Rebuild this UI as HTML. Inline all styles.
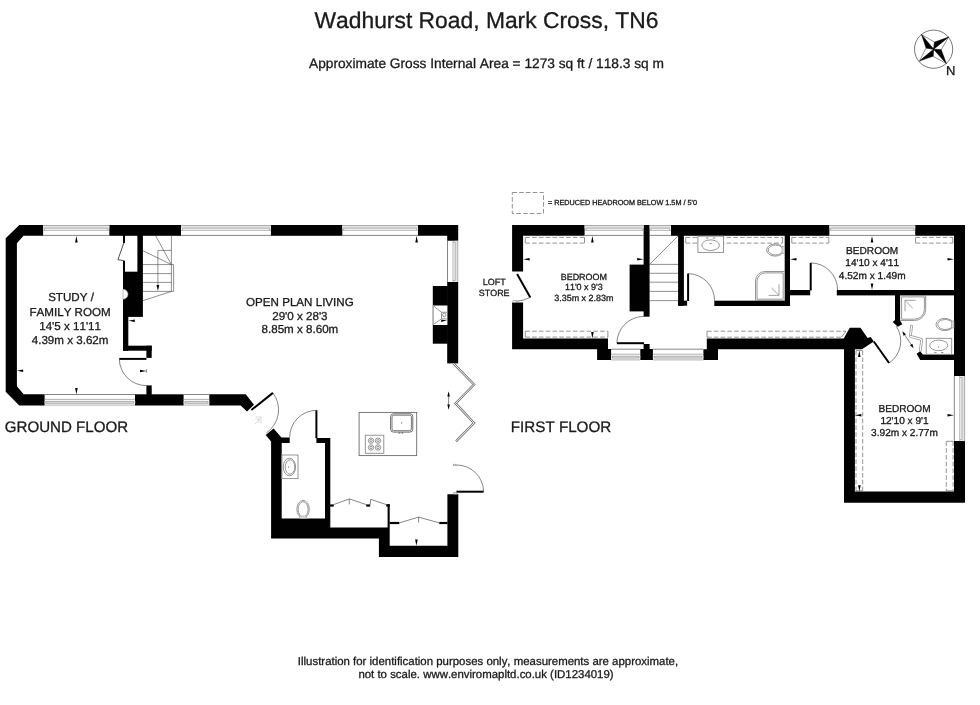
<!DOCTYPE html>
<html>
<head>
<meta charset="utf-8">
<title>Floor plan</title>
<style>
html,body{margin:0;padding:0;background:#fff;}
body{width:980px;height:705px;overflow:hidden;font-family:"Liberation Sans",sans-serif;}
svg{display:block;will-change:transform;opacity:0.999;}
text{font-family:"Liberation Sans",sans-serif;fill:#1a1a1a;font-kerning:none;stroke:#1a1a1a;stroke-width:0.3;text-rendering:geometricPrecision;}
.w{fill:#000;stroke:none;}
.l{fill:none;stroke:#222;stroke-width:0.8;}
.g{fill:none;stroke:#8a8a8a;stroke-width:0.9;}
.gf{fill:#fff;stroke:#8a8a8a;stroke-width:0.9;}
.d{fill:none;stroke:#000;stroke-width:2;}
.a{fill:none;stroke:#3a3a3a;stroke-width:0.62;}
.st{fill:none;stroke:#444;stroke-width:0.6;}
.dash{fill:none;stroke:#787878;stroke-width:0.8;stroke-dasharray:4.6 2.2;}
.dsol{fill:none;stroke:#787878;stroke-width:0.8;}
.arr{fill:#000;stroke:none;}
.wf{fill:#e2e2e2;stroke:none;}
.wl{fill:none;stroke:#909090;stroke-width:0.7;}
.wi{fill:none;stroke:#666;stroke-width:0.8;}
</style>
</head>
<body>
<svg width="980" height="705" viewBox="0 0 980 705">
<rect x="0" y="0" width="980" height="705" fill="#fff"/>

<!-- ===== HEADINGS ===== -->
<g id="headings">
<text x="486.5" y="28" font-size="22.85" text-anchor="middle">Wadhurst Road, Mark Cross, TN6</text>
<text x="486.5" y="68" font-size="13.72" text-anchor="middle">Approximate Gross Internal Area = 1273 sq ft / 118.3 sq m</text>
<text x="488" y="665" font-size="11.43" text-anchor="middle">Illustration for identification purposes only, measurements are approximate,</text>
<text x="486" y="678" font-size="11.43" text-anchor="middle">not to scale. www.enviromapltd.co.uk (ID1234019)</text>
<text x="4.8" y="432" font-size="15.1">GROUND FLOOR</text>
<text x="510.8" y="432" font-size="15.2">FIRST FLOOR</text>
</g>

<!-- ===== COMPASS ===== -->
<g id="compass">
<circle cx="933.6" cy="49.2" r="19.1" fill="none" stroke="#555" stroke-width="0.8"/>
<g fill="#fff" stroke="#444" stroke-width="0.6" stroke-linejoin="miter">
<polygon points="933.6,49.2 921.4,34.4 934.5,42.1"/>
<polygon points="933.6,49.2 948.7,36.9 941.3,49.7"/>
<polygon points="933.6,49.2 946.4,63.6 933.1,56.3"/>
<polygon points="933.6,49.2 919.5,61.1 926,48"/>
</g>
<g fill="#000" stroke="#000" stroke-width="0.4">
<polygon points="933.6,49.2 921.4,34.4 926,48"/>
<polygon points="933.6,49.2 948.7,36.9 934.5,42.1"/>
<polygon points="933.6,49.2 946.4,63.6 941.3,49.7"/>
<polygon points="933.6,49.2 919.5,61.1 933.1,56.3"/>
</g>
<text x="946" y="75" font-size="13">N</text>
</g>


<!-- ===== GROUND FLOOR ===== -->
<g id="ground">
<!-- walls -->
<polygon class="w" points="43.1,225 19.3,225 5.7,238.2 5.7,391.7 19.3,405.4 44.6,405.4 44.6,394.3 23.6,394.3 16.9,386.2 16.9,243.2 23.5,235.8 43.1,235.8"/>
<rect class="w" x="109.3" y="225" width="71.7" height="10.8"/>
<rect class="w" x="137.4" y="235" width="5.5" height="37"/>
<rect class="w" x="123" y="271.7" width="19.9" height="45.2"/>
<rect class="w" x="123" y="235" width="2" height="8"/>
<rect class="w" x="123" y="260.7" width="2" height="11.5"/>
<rect class="w" x="123" y="316" width="5.3" height="34.7"/>
<rect class="w" x="123" y="345.7" width="28.7" height="5"/>
<rect class="w" x="146.4" y="345.7" width="5.3" height="12.2"/>
<rect class="w" x="146.4" y="385.4" width="5.3" height="9.5"/>
<rect class="w" x="135" y="394.3" width="48.6" height="11.2"/>
<polygon class="w" points="209.3,394.3 245.7,394.3 254,404.8 247,411.4 240.7,405.5 209.3,405.5"/>
<rect class="w" x="270.9" y="225" width="71.4" height="10.8"/>
<polygon class="w" points="418,225 458.2,225 458.2,240.8 447.2,240.8 447.2,235.8 418,235.8"/>
<rect class="w" x="447.2" y="282" width="11" height="81.4"/>
<rect class="w" x="432.8" y="286" width="15" height="57.7"/>
<polygon class="w" points="265.7,435 273.6,428.6 281.4,437.4 289.7,437.4 289.7,442.9 281.7,442.9 281.7,518.6 325,518.6 325,442.9 316.4,442.9 316.4,437.9 330.3,437.9 330.3,527.6 387.6,527.6 387.6,504.3 389.7,504.3 389.7,545.7 447.4,545.7 447.4,494.3 458.3,494.3 458.3,556.9 378.9,556.9 378.9,538.6 271.1,538.6 271.1,441.5"/>
<!-- notch & fireplace -->
<path d="M123,289.3 A5,5 0 0 1 123,299.3 Z" fill="#fff" stroke="#999" stroke-width="0.6"/>
<rect x="432.8" y="305.5" width="14.6" height="19.5" fill="#fff"/>
<path class="g" d="M433.2,305.6 V324.6 M433.2,305.6 L441.5,312.3 V318.9 L433.2,324.6 M441.5,312.3 H447.2 M441.5,318.9 H447.2"/>
<circle class="g" cx="444.3" cy="315" r="1.7"/>
<polygon class="arr" points="441.2,319.8 441.2,322.1 447,320.2"/>
<!-- windows -->
<g class="win">
<rect class="wf" x="43.1" y="225.5" width="66.2" height="2.7"/><path class="wl" d="M43.1,225.5 H109.3 M44.5,228.2 H107.89999999999999 M43.1,230.29999999999998 H109.3 M44.5,228.2 V230.29999999999998 M107.89999999999999,228.2 V230.29999999999998"/><path class="wi" d="M43.1,235.4 H109.3"/>
<rect class="wf" x="181" y="225.5" width="89.9" height="2.7"/><path class="wl" d="M181,225.5 H270.9 M182.4,228.2 H269.5 M181,230.29999999999998 H270.9 M182.4,228.2 V230.29999999999998 M269.5,228.2 V230.29999999999998"/><path class="wi" d="M181,235.4 H270.9"/>
<rect class="wf" x="342.3" y="225.5" width="75.7" height="2.7"/><path class="wl" d="M342.3,225.5 H418 M343.7,228.2 H416.6 M342.3,230.29999999999998 H418 M343.7,228.2 V230.29999999999998 M416.6,228.2 V230.29999999999998"/><path class="wi" d="M342.3,235.4 H418"/>
<rect class="wf" x="44.6" y="401.4" width="90.7" height="1.9"/><path class="wl" d="M44.6,405.09999999999997 H135 M45.699999999999996,403.3 H133.6 M45.699999999999996,401.4 H133.6 M44.6,399.4 H135 M45.699999999999996,401.4 V403.3 M133.6,401.4 V403.3"/><path class="wi" d="M44.6,394.5 H135"/>
<rect class="wf" x="183.6" y="401.4" width="25.7" height="1.9"/><path class="wl" d="M183.6,405.09999999999997 H209.3 M185.0,403.3 H207.9 M185.0,401.4 H207.9 M183.6,399.4 H209.3 M185.0,401.4 V403.3 M207.9,401.4 V403.3"/><path class="wi" d="M183.6,394.5 H209.3"/>
<rect class="wf" x="455.09999999999997" y="240.8" width="2.7" height="41.2"/><path class="wl" d="M457.8,240.8 V282 M455.09999999999997,242.20000000000002 V280.6 M453.0,240.8 V282 M455.09999999999997,242.20000000000002 H453.0 M455.09999999999997,280.6 H453.0"/><path class="wi" d="M447.5,240.8 V282"/>
</g>
<!-- cupboard door (study) -->
<path class="l" d="M123.8,243 L117.9,259.7 L123.8,260.7"/>
<!-- stairs -->
<path class="st" d="M142.9,264.6 H171.4 M142.9,273.6 H171.4 M142.9,282.4 H171.4 M142.9,291.4 H173.6 V264.6 H171.4 M171.4,235.8 V291.4 M171.4,264.6 L142.9,250.7 M171.4,264.6 L155.7,235.8 M171.4,291.4 L142.9,300.7 M171.4,250.4 H157.9 V286"/>
<polygon class="arr" points="156.5,285 159.3,285 157.9,291"/>
<!-- study door -->
<path class="d" d="M119.3,358.9 H146.4"/>
<path class="a" d="M119.3,359 A27,27 0 0 0 146.4,385.6"/>
<!-- entrance door -->
<path class="d" d="M251.4,410 L272.9,392.9"/>
<path class="a" d="M272.9,392.9 A28,28 0 0 1 266.4,432.9"/>
<path d="M255.5,417 h5.5 v6.5 M261,417 l-6,7 M255.5,419.2 h3.5 v4" fill="none" stroke="#d4d4d4" stroke-width="0.8"/>
<!-- wc door -->
<path class="d" d="M316.4,410.3 V438.2"/>
<path class="a" d="M316.4,410.3 A27,27 0 0 0 289.7,437.4"/>
<!-- wc fixtures -->
<rect class="gf" x="281.9" y="455" width="16.1" height="23.6"/>
<ellipse class="g" cx="289.4" cy="467" rx="6.2" ry="8.8"/>
<ellipse class="g" cx="290" cy="467" rx="4.8" ry="7.2"/>
<circle cx="288.6" cy="467" r="0.7" fill="#888"/>
<ellipse class="g" cx="303.1" cy="509.2" rx="6.2" ry="8.8"/>
<ellipse class="g" cx="303.1" cy="509.4" rx="5" ry="7.6"/>
<rect x="299.6" y="516" width="7" height="2.6" fill="#ddd" stroke="#999" stroke-width="0.6"/>
<!-- cupboard doors -->
<rect class="w" x="330" y="504.4" width="3.8" height="2.2"/>
<rect class="w" x="366.2" y="504.4" width="4" height="2.2"/>
<rect class="w" x="386.2" y="504.2" width="3.5" height="2.4"/>
<path class="a" d="M333.6,504.6 L349.3,498.9 V504.3 M349.3,498.9 L366.4,504.6 M370.2,504.6 L370.7,499.3 L386.4,504.6"/>
<rect class="w" x="389.7" y="521.9" width="9.6" height="2.2"/>
<rect class="w" x="439.3" y="521.9" width="8.2" height="2.2"/>
<path class="a" d="M399.3,522.9 L418.6,517.1 V522.5 M418.6,517.1 L439.3,522.9"/>
<!-- island -->
<rect class="g" x="359.1" y="412.4" width="57.6" height="43.2" style="stroke:#6a6a6a"/>
<rect class="g" x="390.6" y="413.8" width="22.2" height="18.3" rx="2.8" style="stroke:#5a5a5a"/>
<rect class="g" x="392" y="415.2" width="19.4" height="15.5" rx="1.8" style="stroke:#6a6a6a"/>
<circle cx="401.6" cy="423" r="0.8" fill="#888"/>
<path d="M398.6,433 h1.6 M401.6,433 h1.6" stroke="#555" stroke-width="1.2"/>
<rect class="g" x="365.3" y="435.2" width="18.5" height="18.1"/>
<g class="g"><circle cx="371" cy="440.7" r="2.7"/><circle cx="378" cy="440.7" r="2.7"/><circle cx="371" cy="447.5" r="2.7"/><circle cx="378" cy="447.5" r="2.7"/><circle cx="371" cy="440.7" r="1.2"/><circle cx="378" cy="440.7" r="1.2"/><circle cx="371" cy="447.5" r="1.2"/><circle cx="378" cy="447.5" r="1.2"/></g>
<!-- bifold -->
<path d="M453.6,363.6 L474,384.5 L455.6,403.4 L473.9,423 L456,441.4" fill="none" stroke="#777" stroke-width="2.4" stroke-linejoin="miter"/>
<path d="M453.6,363.6 L474,384.5 L455.6,403.4 L473.9,423 L456,441.4" fill="none" stroke="#fff" stroke-width="0.9" stroke-linejoin="miter"/>
<path class="a" d="M448.6,393 V408.5"/>
<polygon class="arr" points="447.3,396.6 449.9,396.6 448.6,391.4"/>
<polygon class="arr" points="447.3,404.6 449.9,404.6 448.6,409.8"/>
<!-- side door -->
<path class="d" d="M456.4,491.7 H483.6"/>
<path class="a" d="M483.6,491.7 A27,27 0 0 0 455.5,465"/>
<rect x="453.3" y="464.2" width="2.6" height="1.6" fill="#fff" stroke="#888" stroke-width="0.5"/>
<rect x="453.8" y="492.4" width="3" height="1.8" fill="#ddd" stroke="#888" stroke-width="0.5"/>
<!-- dimension arrows -->
<polygon class="arr" points="75.1,242.5 77.7,242.5 76.4,236"/>
<polygon class="arr" points="75.1,388 77.7,388 76.4,394.3"/>
<polygon class="arr" points="23.2,369.5 23.2,371.9 17,370.7"/>
<polygon class="arr" points="134.8,319.5 134.8,321.9 128.4,320.7"/>
<polygon class="arr" points="140,369.8 140,372.2 146.4,371"/><path class="a" d="M146.4,369.3 V372.7"/>
<polygon class="arr" points="415.3,242.5 417.9,242.5 416.6,236"/>
<polygon class="arr" points="415.1,539.4 417.7,539.4 416.4,545.7"/>
<!-- labels -->
<g font-size="11.6" text-anchor="middle">
<text x="71" y="301">STUDY /</text>
<text x="70.1" y="316">FAMILY ROOM</text>
<text x="70.1" y="330">14'5 x 11'11</text>
<text x="70.1" y="344">4.39m x 3.62m</text>
<text x="299.9" y="306">OPEN PLAN LIVING</text>
<text x="299.9" y="320">29'0 x 28'3</text>
<text x="299.9" y="333">8.85m x 8.60m</text>
</g>
</g>


<!-- ===== FIRST FLOOR ===== -->
<g id="first">
<!-- legend -->
<rect class="dash" x="512.3" y="192.5" width="31.2" height="21"/>
<text x="548" y="205" font-size="7.27">= REDUCED HEADROOM BELOW 1.5M / 5'0</text>
<!-- dashed headroom boxes (under walls) -->
<path class="dash" d="M525.3,237.4 H584.5 M525.3,243.1 H584.5"/><path class="dsol" d="M525.3,237.4 V243.1 M584.5,237.4 V243.1"/>
<path class="dash" d="M525.3,331.2 H607.9 M525.3,337.1 H607.9"/><path class="dsol" d="M525.3,331.2 V337.1 M607.9,331.2 V337.1"/>
<path class="dash" d="M685.7,237.4 H782.6 M685.7,243.1 H782.6"/><path class="dsol" d="M685.7,237.4 V243.1 M782.6,237.4 V243.1"/>
<path class="dash" d="M791.8,237.4 H828.8 M791.8,243.1 H828.8"/><path class="dsol" d="M791.8,237.4 V243.1 M828.8,237.4 V243.1"/>
<path class="dash" d="M915.6,237.4 H952.8 M915.6,243.1 H952.8"/><path class="dsol" d="M915.6,237.4 V243.1 M952.8,237.4 V243.1"/>
<path class="dash" d="M707,331.2 H846 M707,337.2 H841.4"/><path class="dsol" d="M707,331.2 V337.2 M846,331.2 L841.4,337.2"/>
<path class="dash" d="M856,350.6 V490.8 M862.7,350.6 V490.8"/><path class="dsol" d="M856,350.6 H862.7 M856,490.8 H862.7"/>
<path class="dash" d="M946.3,441.3 V490.8 M953.1,441.3 V490.8"/><path class="dsol" d="M946.3,441.3 H953.1 M946.3,490.8 H953.1"/>
<!-- walls -->
<polygon class="w" points="512.1,225 584.6,225 584.6,235.8 523.1,235.8 523.1,271.4 512.1,271.4"/>
<polygon class="w" points="512.1,302.4 523.1,302.4 523.1,338.4 608,338.4 608,349 611.1,349 611.1,360 597.1,360 597.1,349.2 512.1,349.2"/>
<rect class="w" x="643.6" y="225" width="6" height="91.7"/>
<rect class="w" x="629.6" y="264.6" width="15" height="46.8"/>
<rect class="w" x="671" y="225" width="158.4" height="10.8"/>
<rect class="w" x="678.1" y="235" width="5.8" height="70.7"/>
<rect class="w" x="678.1" y="300.7" width="9" height="5"/>
<rect class="w" x="714.3" y="300.7" width="75.7" height="5.3"/>
<rect class="w" x="784.7" y="235" width="5.3" height="71"/>
<rect class="w" x="789" y="290" width="21.2" height="5.3"/>
<polygon class="w" points="915.2,225 965,225 965,376 954,376 954,235.8 915.2,235.8"/>
<rect class="w" x="836.8" y="290" width="118" height="5.4"/>
<rect class="w" x="895" y="295" width="5.1" height="26.5"/>
<polygon class="w" points="892.7,322.1 897.8,326.7 902.3,324.2 899.8,320.1 895,320.1"/>
<polygon class="w" points="916.6,353.8 920.2,351.2 922.8,354.5 955,354.5 955,360 920.2,360"/>
<polygon class="w" points="954,441.1 965,441.1 965,502.7 844,502.7 844,349 854.9,349 854.9,491.6 954,491.6"/>
<polygon class="w" points="706.8,338.5 843.7,338.5 849.8,327.7 860.5,327.7 867.6,337.9 870.7,337 873.8,341.5 862,349.2 718,349.2 718,360 703.4,360 703.4,349.2 706.8,349.2"/>
<rect class="w" x="640.3" y="349" width="12.6" height="11"/>
<rect class="w" x="643.6" y="344" width="6" height="6"/>
<!-- windows -->
<g class="win">
<rect class="wf" x="584.6" y="225.5" width="59.0" height="2.7"/><path class="wl" d="M584.6,225.5 H643.6 M586.0,228.2 H642.2 M584.6,230.29999999999998 H643.6 M586.0,228.2 V230.29999999999998 M642.2,228.2 V230.29999999999998"/><path class="wi" d="M584.6,235.4 H643.6"/>
<rect class="wf" x="649.6" y="225.5" width="21.4" height="2.7"/><path class="wl" d="M649.6,225.5 H671 M651.0,228.2 H669.6 M649.6,230.29999999999998 H671 M651.0,228.2 V230.29999999999998 M669.6,228.2 V230.29999999999998"/><path class="wi" d="M649.6,235.4 H671"/>
<rect class="wf" x="829.4" y="225.5" width="85.8" height="2.7"/><path class="wl" d="M829.4,225.5 H915.2 M830.8,228.2 H913.8000000000001 M829.4,230.29999999999998 H915.2 M830.8,228.2 V230.29999999999998 M913.8000000000001,228.2 V230.29999999999998"/><path class="wi" d="M829.4,235.4 H915.2"/>
<rect class="wf" x="611.1" y="356.2" width="29.2" height="1.9"/><path class="wl" d="M611.1,359.9 H640.3 M612.5,358.1 H638.9 M612.5,356.2 H638.9 M611.1,354.2 H640.3 M612.5,356.2 V358.1 M638.9,356.2 V358.1"/><path class="wi" d="M611.1,349.2 H640.3"/>
<rect class="wf" x="652.9" y="356.2" width="50.5" height="1.9"/><path class="wl" d="M652.9,359.9 H703.4 M654.3,358.1 H702.0 M654.3,356.2 H702.0 M652.9,354.2 H703.4 M654.3,356.2 V358.1 M702.0,356.2 V358.1"/><path class="wi" d="M652.9,349.2 H703.4"/>
<rect class="wf" x="961.9" y="376" width="2.7" height="65.1"/><path class="wl" d="M964.6,376 V441.1 M961.9,377.4 V439.70000000000005 M959.8,376 V441.1 M961.9,377.4 H959.8 M961.9,439.70000000000005 H959.8"/><path class="wi" d="M954.3,376 V441.1"/>
</g>
<!-- stairs -->
<path class="st" d="M649.6,264.4 H678.1 M649.6,273.3 H678.1 M649.6,282.2 H678.1 M649.6,291.4 H678.1 M649.6,300.6 H678.1 M678.1,235.8 L649.6,264.4"/>
<!-- loft door -->
<path class="d" d="M517.1,273.9 L530.3,297.4"/>
<path class="a" d="M530.3,297.4 Q524,301 515,301.4"/>
<rect x="513" y="300.6" width="3" height="1.6" fill="#fff" stroke="#888" stroke-width="0.5"/>
<!-- bed1 door -->
<path class="d" d="M616.9,343.2 H644"/>
<path class="a" d="M616.9,343 A27,27 0 0 1 643.8,316.4"/>
<!-- bath door -->
<path class="d" d="M688.1,273.6 V301"/>
<path class="a" d="M688.1,273.6 A26.7,26.7 0 0 1 714.5,300.7"/>
<!-- bed2 door -->
<path class="d" d="M810.7,262.9 V290.4"/>
<path class="a" d="M810.7,262.9 A27,27 0 0 1 837.6,290"/>
<!-- bed3 door -->
<path class="d" d="M873.8,341.5 L889.1,363"/>
<path class="a" d="M889.1,363 A26.5,26.5 0 0 0 896.2,326.2"/>
<!-- bath fixtures -->
<rect class="gf" x="697.9" y="236.2" width="25.7" height="16.2" fill="none"/>
<ellipse class="g" cx="710.6" cy="245.2" rx="8.8" ry="5.3"/>
<path d="M706,238 h2.4 M712.8,238 h2.4 M709.6,243.6 h2" stroke="#888" stroke-width="1"/>
<ellipse class="g" cx="775.2" cy="250" rx="8.6" ry="6.1"/>
<ellipse class="g" cx="775.6" cy="250" rx="7.4" ry="5"/>
<rect x="782" y="246.6" width="2.7" height="7" fill="#ddd" stroke="#999" stroke-width="0.6"/>
<path class="g" d="M784.5,271.5 H765 A9.5,9.5 0 0 0 755.5,281 V300.5 H784.5"/>
<path class="g" d="M783.2,272.9 H765.4 A8.4,8.4 0 0 0 757,281.3 V299.2 H783.2 Z"/>
<path class="g" d="M771.4,287.9 L779,295.4 M768.6,295.4 H779 V284.3" style="stroke:#999"/>
<!-- ensuite fixtures -->
<path class="g" d="M900.3,295.6 H925.7 V309.5 A11,11 0 0 1 914.7,320.5 H900.3"/>
<path class="g" d="M901.6,296.9 H924.4 V309.4 A9.8,9.8 0 0 1 914.6,319.2 H901.6 Z"/>
<path class="g" d="M912.7,308.3 L905,300.3 M915.7,300.3 H905 V311.3" style="stroke:#999"/>
<ellipse class="g" cx="944.8" cy="324.5" rx="8.8" ry="6.1"/>
<ellipse class="g" cx="945.2" cy="324.5" rx="7.5" ry="5"/>
<rect x="951.3" y="321" width="2.7" height="7" fill="#ddd" stroke="#999" stroke-width="0.6"/>
<rect class="g" x="926.2" y="338.3" width="25.5" height="16"/>
<ellipse class="g" cx="938.7" cy="345.4" rx="9" ry="5.3"/>
<circle cx="938.7" cy="347" r="0.7" fill="#888"/>
<path d="M934.2,352.6 h2.4 M941,352.6 h2.4" stroke="#888" stroke-width="1"/>
<!-- ensuite bifold door -->
<g fill="none" stroke-linecap="round">
<path d="M911.5,326 L910.6,334.6 M910.4,336.3 L921.4,339.4 M921.6,340.6 L920.3,350.4" stroke="#909090" stroke-width="2.7"/>
<path d="M911.5,326 L910.6,334.6 M910.4,336.3 L921.4,339.4 M921.6,340.6 L920.3,350.4" stroke="#fff" stroke-width="1.2"/>
</g>
<path class="a" d="M903.6,333.2 L912.4,346.4"/>
<polygon class="arr" points="902.3,331.3 903.6,335.8 906,334.2"/>
<polygon class="arr" points="913.6,348.2 909.9,345.3 912.3,343.7"/>
<!-- dimension arrows -->
<polygon class="arr" points="529.6,258.1 529.6,260.5 523.2,259.3"/>
<polygon class="arr" points="637.1,258.1 637.1,260.5 643.5,259.3"/>
<polygon class="arr" points="591.1,242.5 593.7,242.5 592.4,236"/>
<polygon class="arr" points="591.1,332 593.7,332 592.4,338.4"/>
<polygon class="arr" points="796.5,258.1 796.5,260.5 790.1,259.3"/>
<polygon class="arr" points="947.5,258 947.5,260.4 953.9,259.2"/>
<polygon class="arr" points="870.7,242.5 873.3,242.5 872,236"/>
<polygon class="arr" points="870.7,283.6 873.3,283.6 872,290"/>
<polygon class="arr" points="861.4,414.1 861.4,416.5 855,415.3"/>
<polygon class="arr" points="947.5,414.1 947.5,416.5 953.9,415.3"/>
<polygon class="arr" points="858,357 860.6,357 859.3,350.6"/>
<polygon class="arr" points="858.1,485.2 860.7,485.2 859.4,491.5"/>
<!-- labels -->
<g font-size="8.95" text-anchor="middle">
<text x="583.8" y="280">BEDROOM</text>
<text x="583.8" y="290">11'0 x 9'3</text>
<text x="583.8" y="301">3.35m x 2.83m</text>
<text x="494.2" y="285">LOFT</text>
<text x="494.2" y="296">STORE</text>
</g>
<g font-size="10.1" text-anchor="middle">
<text x="872.2" y="254">BEDROOM</text>
<text x="872.2" y="266">14'10 x 4'11</text>
<text x="872.2" y="279">4.52m x 1.49m</text>
<text x="904.5" y="412">BEDROOM</text>
<text x="904.5" y="424">12'10 x 9'1</text>
<text x="904.5" y="436">3.92m x 2.77m</text>
</g>
</g>


</svg>
</body>
</html>
